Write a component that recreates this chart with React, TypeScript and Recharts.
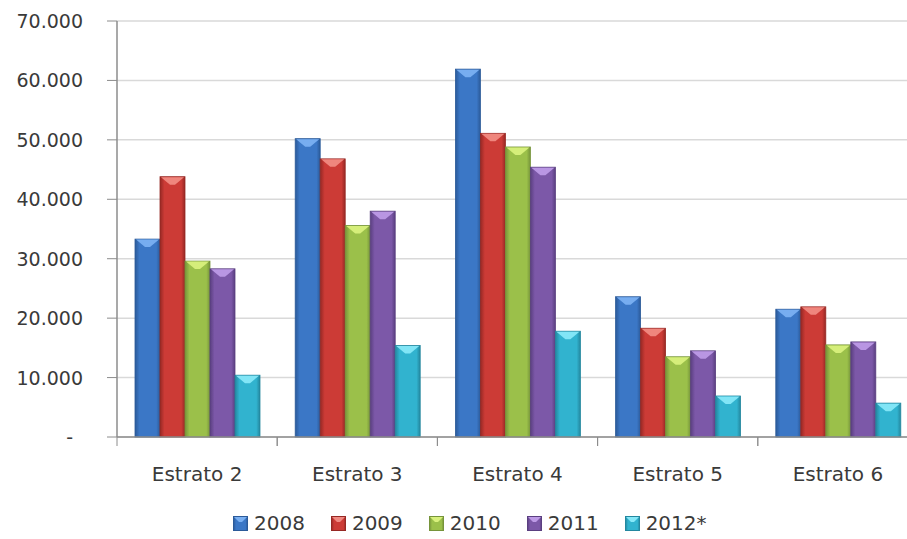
import { Bar, BarChart, CartesianGrid, XAxis, YAxis } from "recharts";

const CATEGORIES = ["Estrato 2", "Estrato 3", "Estrato 4", "Estrato 5", "Estrato 6"];
const SERIES_NAMES = ["2008", "2009", "2010", "2011", "2012*"];
const VALUES_2008 = [33300, 50200, 61900, 23600, 21500];
const VALUES_2009 = [43800, 46800, 51100, 18300, 21900];
const VALUES_2010 = [29600, 35600, 48800, 13500, 15500];
const VALUES_2011 = [28300, 38000, 45400, 14500, 16000];
const VALUES_2012 = [10400, 15400, 17800, 6900, 5700];
const Y_TICKS = [0, 10000, 20000, 30000, 40000, 50000, 60000, 70000];

const SERIES_VALUES = [VALUES_2008, VALUES_2009, VALUES_2010, VALUES_2011, VALUES_2012];

// base / highlight / edge per series
const COLORS = [
  { base: "#3b77c6", light: "#7ab0f2", dark: "#2b5a99" },
  { base: "#cc3b36", light: "#f08a82", dark: "#962824" },
  { base: "#9bc04a", light: "#d8f07c", dark: "#76943a" },
  { base: "#7c58a8", light: "#bd9ae6", dark: "#5a3f80" },
  { base: "#31b3cf", light: "#86e8f8", dark: "#23879f" },
];

const data = CATEGORIES.map((name, i) => {
  const row: Record<string, string | number> = { name };
  SERIES_NAMES.forEach((s, j) => {
    row[s] = SERIES_VALUES[j][i];
  });
  return row;
});

const FONT = "'DejaVu Sans', Verdana, sans-serif";
const TEXT = "#3a3a3a";
const AXIS = "#8c8c8c";

const fmt = (v: number) => (v === 0 ? "-" : `${v / 1000}.000`);

function YTick(props: any) {
  const { x, y, payload } = props;
  const v = payload.value as number;
  return (
    <text
      x={v === 0 ? x - 10 : x}
      y={y}
      dy={7}
      textAnchor="end"
      fontFamily={FONT}
      fontSize={19}
      fill={TEXT}
    >
      {fmt(v)}
    </text>
  );
}

function XTick(props: any) {
  const { x, y, payload } = props;
  const half = payload.offset ?? 0;
  return (
    <g>
      <line x1={x - half} x2={x - half} y1={437} y2={446} stroke={AXIS} />
      <line x1={x + half} x2={x + half} y1={437} y2={446} stroke={AXIS} />
      <text x={x} y={y} dy={26} textAnchor="middle" fontFamily={FONT} fontSize={20} fill={TEXT}>
        {payload.value}
      </text>
    </g>
  );
}

function BevelBar(props: any) {
  const { x, y, width, height, idx } = props;
  if (!height || height <= 0) return null;
  const c = COLORS[idx];
  const b = Math.min(8, height);
  return (
    <g>
      <rect x={x} y={y} width={width} height={height} fill={`url(#bar-grad-${idx})`} stroke={c.dark} strokeWidth={0.8} />
      <polygon
        points={`${x + 1},${y + 0.5} ${x + width - 1},${y + 0.5} ${x + width * 0.6},${y + b} ${x + width * 0.4},${y + b}`}
        fill={c.light}
        opacity={0.95}
      />
    </g>
  );
}

export default function App() {
  return (
    <div
      style={{
        position: "absolute",
        left: 0,
        top: 0,
        width: 907,
        height: 539,
        overflow: "hidden",
        background: "#fff",
      }}
    >
      <svg width={0} height={0} style={{ position: "absolute" }}>
        <defs>
          {COLORS.map((c, i) => (
            <linearGradient key={i} id={`bar-grad-${i}`} x1="0" y1="0" x2="1" y2="0">
              <stop offset="0%" stopColor={c.dark} />
              <stop offset="18%" stopColor={c.base} />
              <stop offset="85%" stopColor={c.base} />
              <stop offset="100%" stopColor={c.dark} />
            </linearGradient>
          ))}
        </defs>
      </svg>
      <BarChart
        width={918}
        height={539}
        data={data}
        margin={{ top: 21, right: 0, left: 0, bottom: 42 }}
        barCategoryGap={18}
        barGap={0}
      >
        <CartesianGrid vertical={false} stroke="#d9d9d9" strokeWidth={1.5} />
        <XAxis
          dataKey="name"
          height={60}
          axisLine={{ stroke: AXIS, strokeWidth: 1.5 }}
          tickLine={false}
          tick={<XTick />}
          tickMargin={12}
          interval={0}
        />
        <YAxis
          width={117}
          domain={[0, 70000]}
          ticks={Y_TICKS}
          interval={0}
          axisLine={{ stroke: AXIS, strokeWidth: 1.5 }}
          tickLine={{ stroke: AXIS }}
          tickSize={10}
          tickMargin={24}
          tick={<YTick />}
        />
        {SERIES_NAMES.map((s, i) => (
          <Bar
            key={s}
            dataKey={s}
            isAnimationActive={false}
            fill={COLORS[i].base}
            shape={(p: any) => <BevelBar {...p} idx={i} />}
          />
        ))}
      </BarChart>
      <div
        style={{
          position: "absolute",
          left: 233,
          top: 512,
          display: "flex",
          gap: 26,
          fontFamily: FONT,
          fontSize: 20,
          color: TEXT,
          lineHeight: "22px",
        }}
      >
        {SERIES_NAMES.map((s, i) => (
          <div key={s} style={{ display: "flex", alignItems: "center" }}>
            <svg width={15} height={15} style={{ marginRight: 6 }}>
              <rect x={0.5} y={0.5} width={14} height={14} fill={`url(#bar-grad-${i})`} stroke={COLORS[i].dark} />
              <polygon points="1,1 14,1 9,6 6,6" fill={COLORS[i].light} />
            </svg>
            <span>{s}</span>
          </div>
        ))}
      </div>
    </div>
  );
}
